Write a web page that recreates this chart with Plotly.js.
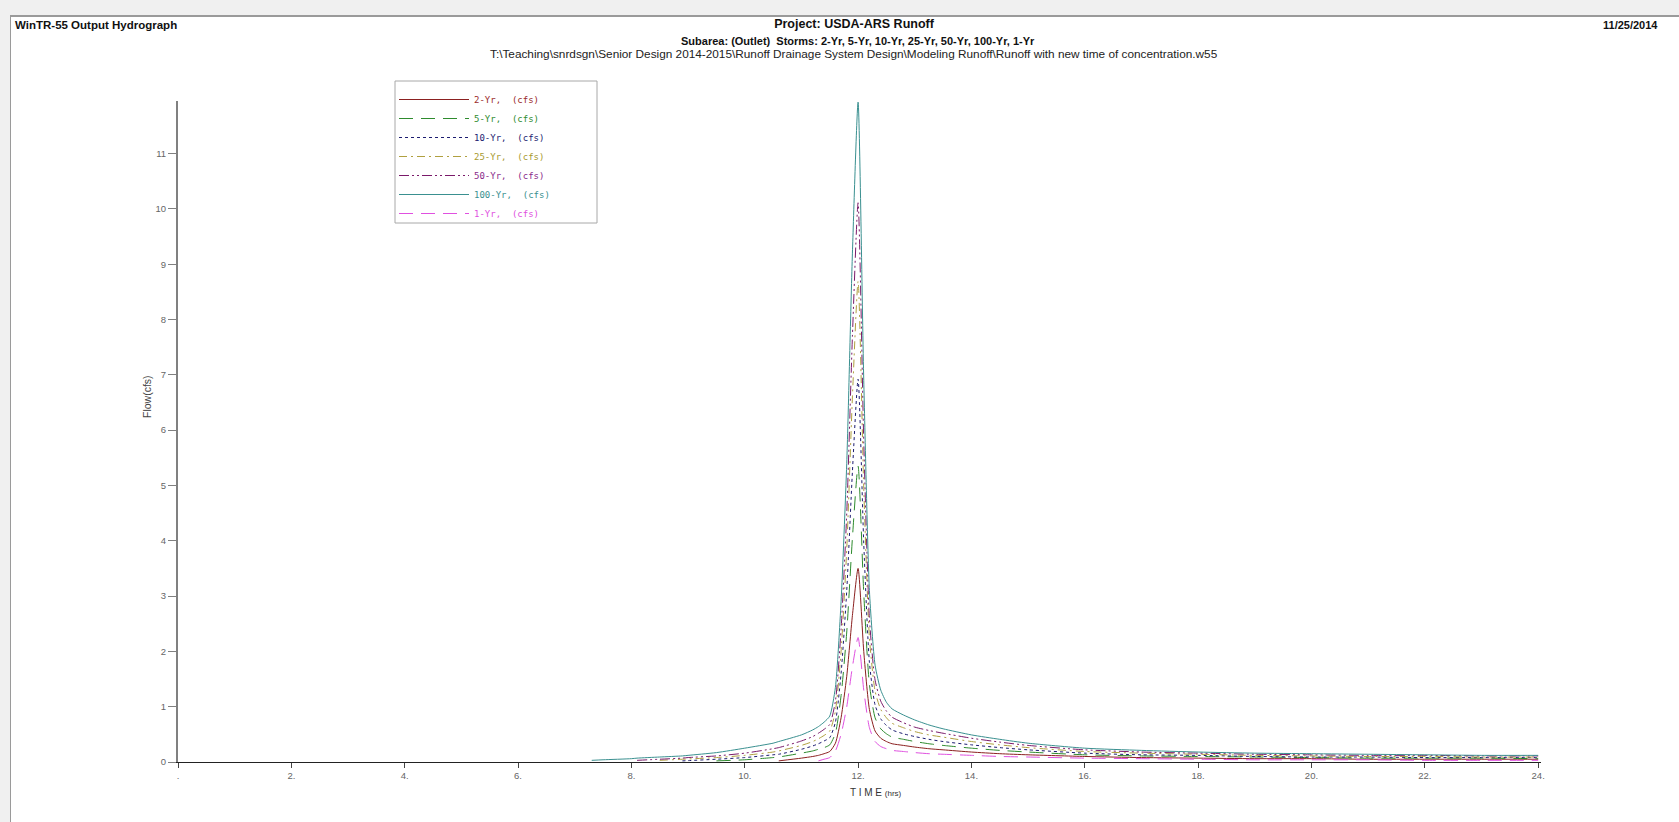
<!DOCTYPE html>
<html>
<head>
<meta charset="utf-8">
<script src="https://cdn.plot.ly/plotly-3.0.1.min.js"></script>
<style>
html,body{margin:0;padding:0;width:1679px;height:822px;overflow:hidden;background:#f0f0f0;}
#frame{position:absolute;left:10px;top:15px;width:1669px;height:807px;border-top:2px solid #9a9a9a;border-left:1px solid #9a9a9a;box-sizing:border-box;background:#fff;}
#chart{position:absolute;left:0;top:0;width:1668px;height:805px;}
</style>
</head>
<body>
<div id="frame"><div id="chart"></div></div>
<script>
// ---- data (hours, cfs) ----
const timeHrs = [7.3, 7.5, 8.0, 8.1, 8.5, 8.9, 9.0, 9.5, 10.0, 10.5, 10.6, 11.0, 11.2, 11.3, 11.4, 11.5, 11.6, 11.7, 11.8, 11.9,
                 12.0, 12.1, 12.2, 12.3, 12.4, 12.5, 12.6, 12.8, 13.0, 13.25, 13.5, 14.0, 14.5, 15.0, 16.0, 17.0, 18.0, 19.0, 20.0, 21.0, 22.0, 23.0, 24.0];

const q2yr   = [null, null, null, null, null, null, null, null, null, null, 0.02, 0.07, 0.10, 0.12, 0.15, 0.19, 0.34, 0.80, 1.55, 2.65,
                3.50, 2.00, 0.95, 0.56, 0.43, 0.37, 0.33, 0.30, 0.27, 0.24, 0.22, 0.18, 0.15, 0.13, 0.10, 0.08, 0.07, 0.06, 0.06, 0.05, 0.05, 0.05, 0.05];
const q5yr   = [null, null, null, null, null, null, null, 0.02, 0.04, 0.08, 0.09, 0.16, 0.20, 0.23, 0.26, 0.31, 0.52, 1.20, 2.35, 4.05,
                5.35, 3.05, 1.40, 0.80, 0.60, 0.51, 0.45, 0.41, 0.37, 0.33, 0.30, 0.25, 0.21, 0.18, 0.13, 0.11, 0.10, 0.09, 0.08, 0.07, 0.07, 0.07, 0.06];
const q10yr  = [null, null, null, null, null, 0.02, 0.025, 0.05, 0.08, 0.13, 0.14, 0.23, 0.29, 0.33, 0.38, 0.44, 0.72, 1.60, 3.10, 5.25,
                6.92, 3.95, 1.80, 1.03, 0.78, 0.66, 0.58, 0.51, 0.46, 0.41, 0.37, 0.31, 0.26, 0.22, 0.16, 0.13, 0.12, 0.10, 0.09, 0.09, 0.08, 0.08, 0.08];
const q25yr  = [null, null, null, null, 0.03, 0.05, 0.055, 0.08, 0.12, 0.18, 0.20, 0.30, 0.37, 0.42, 0.48, 0.56, 0.92, 2.00, 3.85, 6.60,
                8.69, 4.95, 2.25, 1.28, 0.95, 0.80, 0.70, 0.62, 0.55, 0.49, 0.45, 0.37, 0.31, 0.26, 0.19, 0.16, 0.14, 0.12, 0.11, 0.10, 0.10, 0.09, 0.09];
const q50yr  = [null, null, null, 0.03, 0.05, 0.07, 0.08, 0.11, 0.16, 0.24, 0.26, 0.38, 0.46, 0.52, 0.59, 0.68, 1.10, 2.40, 4.50, 7.70,
                10.11, 5.80, 2.60, 1.48, 1.10, 0.92, 0.81, 0.71, 0.63, 0.57, 0.52, 0.43, 0.36, 0.30, 0.22, 0.18, 0.16, 0.14, 0.13, 0.12, 0.12, 0.11, 0.11];
const q100yr = [0.03, 0.04, 0.06, 0.07, 0.09, 0.11, 0.12, 0.17, 0.25, 0.34, 0.37, 0.49, 0.58, 0.64, 0.72, 0.83, 1.35, 2.90, 5.40, 9.20,
                11.93, 6.90, 3.10, 1.75, 1.30, 1.08, 0.96, 0.85, 0.76, 0.67, 0.60, 0.49, 0.41, 0.34, 0.25, 0.21, 0.18, 0.16, 0.15, 0.14, 0.13, 0.12, 0.12];
const q1yr   = [null, null, null, null, null, null, null, null, null, null, null, null, null, 0.02, 0.05, 0.08, 0.20, 0.50, 1.00, 1.72,
                2.25, 1.30, 0.62, 0.37, 0.28, 0.24, 0.21, 0.19, 0.17, 0.15, 0.14, 0.12, 0.10, 0.09, 0.07, 0.06, 0.05, 0.04, 0.04, 0.04, 0.03, 0.03, 0.03];

const seriesNames = ['2-Yr,  (cfs)', '5-Yr,  (cfs)', '10-Yr,  (cfs)', '25-Yr,  (cfs)', '50-Yr,  (cfs)', '100-Yr,  (cfs)', '1-Yr,  (cfs)'];
const seriesValues = [q2yr, q5yr, q10yr, q25yr, q50yr, q100yr, q1yr];

const xTickVals = [0, 2, 4, 6, 8, 10, 12, 14, 16, 18, 20, 22, 24];
const xTickText = ['.', '2.', '4.', '6.', '8.', '10.', '12.', '14.', '16.', '18.', '20.', '22.', '24.'];
const yTickVals = [0, 1, 2, 3, 4, 5, 6, 7, 8, 9, 10, 11];
const yTickText = ['0', '1', '2', '3', '4', '5', '6', '7', '8', '9', '10', '11'];

// ---- styles ----
const seriesColors = ['#8b2020', '#2e8b2e', '#1c1c70', '#b0a040', '#7a1a6a', '#3a9090', '#e050e0'];
const textColors   = ['#9a2a2a', '#2e8b2e', '#1c1c70', '#a89a30', '#8a2a8a', '#3a9090', '#e050e0'];
const seriesDash   = ['solid', '14px,8px', '3px,3px', '8px,4px,2px,4px', '10px,3px,2px,3px,2px,3px', 'solid', '14px,8px'];

const W = 1668, H = 805, ML = 167, MR = 138, MT = 84, MB = 60;
const PW = W - ML - MR, PH = H - MT - MB;
const px = x => (x - 10 - ML) / PW;
const py = y => 1 - (y - 15 - MT) / PH;
const baseFont = 'Liberation Sans, Arial, sans-serif';

const traces = seriesValues.map((vals, i) => ({
  x: timeHrs, y: vals, type: 'scatter', mode: 'lines',
  name: '<span style="color:' + textColors[i] + '">' + seriesNames[i] + '</span>',
  line: {color: seriesColors[i], width: 1, dash: seriesDash[i], shape: 'spline', smoothing: 0.6},
  connectgaps: false, hoverinfo: 'x+y'
}));

const tickFont = {family: baseFont, size: 9.5, color: '#666'};

const layout = {
  width: W, height: H,
  margin: {l: ML, r: MR, t: MT, b: MB, autoexpand: false},
  paper_bgcolor: '#ffffff', plot_bgcolor: '#ffffff',
  showlegend: true,
  title: {
    text: '<b>Project: USDA-ARS Runoff</b>',
    font: {family: baseFont, size: 12.5, color: '#111'},
    xref: 'container', yref: 'container',
    x: (853 - 10) / W, y: 1 - (22 - 15) / H, xanchor: 'center', yanchor: 'middle'
  },
  legend: {
    x: px(393), y: py(83), xanchor: 'left', yanchor: 'top',
    bgcolor: 'rgba(0,0,0,0)', borderwidth: 0,
    font: {family: 'DejaVu Sans Mono, monospace', size: 9, color: '#333'},
    itemwidth: 70, tracegroupgap: 0, traceorder: 'normal'
  },
  shapes: [
    {type: 'rect', xref: 'paper', yref: 'paper', x0: px(394), x1: px(596), y0: py(221), y1: py(79),
     line: {color: '#a8a8a8', width: 1}, fillcolor: '#ffffff', layer: 'below'}
  ],
  xaxis: {
    range: [0, 24.05], showgrid: false, zeroline: false,
    showline: true, linecolor: '#222', linewidth: 1,
    ticks: 'outside', ticklen: 5, tickcolor: '#444', tickwidth: 1,
    tickvals: xTickVals, ticktext: xTickText, tickfont: tickFont
  },
  yaxis: {
    range: [0, 11.95], showgrid: false, zeroline: false,
    showline: true, linecolor: '#808080', linewidth: 2,
    ticks: 'outside', ticklen: 8, tickcolor: '#808080', tickwidth: 1,
    ticklabelstandoff: 0,
    tickvals: yTickVals, ticktext: yTickText, tickfont: tickFont
  },
  annotations: [
    {text: '<b>WinTR-55 Output Hydrograph</b>', xref: 'paper', yref: 'paper', x: px(12), y: py(23), xanchor: 'left', yanchor: 'middle', showarrow: false,
     font: {family: baseFont, size: 11.5, color: '#111'}},
    {text: '<b>Subarea: (Outlet)  Storms: 2-Yr, 5-Yr, 10-Yr, 25-Yr, 50-Yr, 100-Yr, 1-Yr</b>', xref: 'paper', yref: 'paper', x: px(857), y: py(39), xanchor: 'center', yanchor: 'middle', showarrow: false,
     font: {family: baseFont, size: 11, color: '#111'}},
    {text: 'T:\\Teaching\\snrdsgn\\Senior Design 2014-2015\\Runoff Drainage System Design\\Modeling Runoff\\Runoff with new time of concentration.w55', xref: 'paper', yref: 'paper', x: px(853), y: py(52), xanchor: 'center', yanchor: 'middle', showarrow: false,
     font: {family: baseFont, size: 11.8, color: '#222'}},
    {text: '<b>11/25/2014</b>', xref: 'paper', yref: 'paper', x: px(1659), y: py(23), xanchor: 'right', yanchor: 'middle', showarrow: false,
     font: {family: baseFont, size: 11, color: '#111'}},
    {text: 'Flow(cfs)', xref: 'paper', yref: 'paper', x: px(146), y: py(395), xanchor: 'center', yanchor: 'middle', textangle: -90, showarrow: false,
     font: {family: baseFont, size: 10.5, color: '#444'}},
    {text: 'T I M E <span style="font-size:8px">(hrs)</span>', xref: 'paper', yref: 'paper', x: px(875), y: py(790), xanchor: 'center', yanchor: 'middle', showarrow: false,
     font: {family: baseFont, size: 10, color: '#333'}}
  ]
};

Plotly.newPlot('chart', traces, layout, {displayModeBar: false, staticPlot: true});
</script>
</body>
</html>
